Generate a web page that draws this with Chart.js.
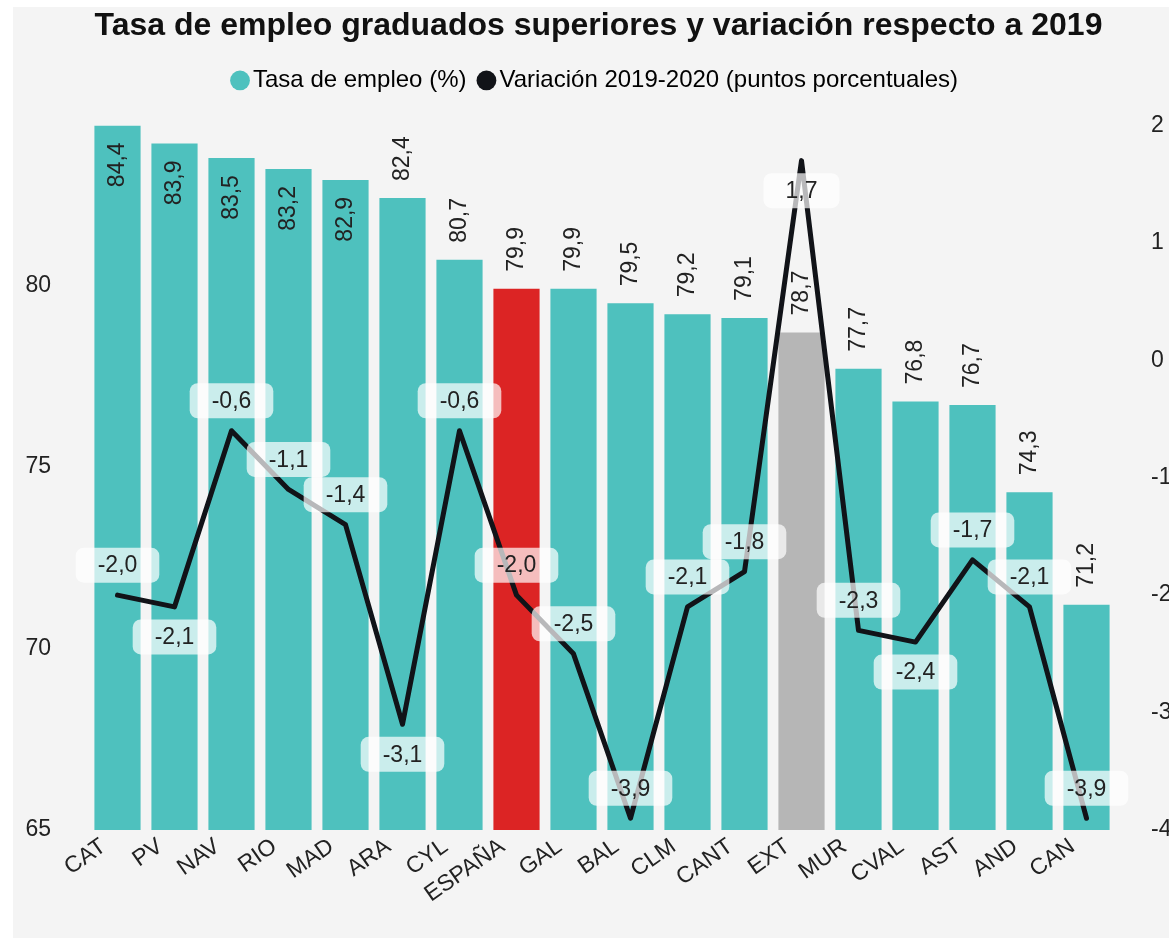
<!DOCTYPE html>
<html lang="es">
<head>
<meta charset="utf-8">
<title>Tasa de empleo graduados superiores</title>
<script src="https://cdn.jsdelivr.net/npm/chart.js@4.4.1/dist/chart.umd.min.js"></script>
<style>
  html, body { margin: 0; padding: 0; background: #fff; overflow: hidden; }
  #wrap { position: absolute; left: 13px; top: 7px; width: 1156px; height: 931px; overflow: hidden; background: #f4f4f4; }
  canvas { display: block; }
</style>
</head>
<body>
<div id="wrap"><canvas id="myChart" width="1171" height="931"></canvas></div>
<script>
// comunidades, ordered by employment rate
const comunidades = ['CAT', 'PV', 'NAV', 'RIO', 'MAD', 'ARA', 'CYL', 'ESPAÑA', 'GAL',
    'BAL', 'CLM', 'CANT', 'EXT', 'MUR', 'CVAL', 'AST', 'AND', 'CAN'];
// tasa de empleo (%)
const tasaEmpleo = [84.4, 83.9, 83.5, 83.2, 82.9, 82.4, 80.7, 79.9, 79.9,
    79.5, 79.2, 79.1, 78.7, 77.7, 76.8, 76.7, 74.3, 71.2];
// variacion 2019-2020 (puntos porcentuales)
const variacion = [-2.0, -2.1, -0.6, -1.1, -1.4, -3.1, -0.6, -2.0, -2.5,
    -3.9, -2.1, -1.8, 1.7, -2.3, -2.4, -1.7, -2.1, -3.9];
const ticksIzq = [65, 70, 75, 80];
const ticksDer = [-4, -3, -2, -1, 0, 1, 2];

// the line's value boxes go under the point for these ones
const etiquetasAbajo = ['PV', 'ARA', 'EXT', 'CVAL'];

const TEAL = '#4ec1be';
const RED = '#dc2424';
const GREY = '#b6b6b6';
const INK = '#111318';
const TEXT = '#222';
const FONT = '"Liberation Sans", Arial, Helvetica, sans-serif';

function coma(v) {
    return v.toFixed(1).replace('.', ',');
}

const barColors = comunidades.map(c => c === 'ESPAÑA' ? RED : (c === 'EXT' ? GREY : TEAL));

// draws the value labels: rotated numbers on bars, boxed numbers on the line
const etiquetas = {
    id: 'etiquetas',
    afterDatasetsDraw(chart) {
        const ctx = chart.ctx;
        const area = chart.chartArea;
        ctx.save();
        ctx.font = '23px ' + FONT;
        ctx.textAlign = 'center';
        ctx.textBaseline = 'middle';

        chart.getDatasetMeta(0).data.forEach((bar, i) => {
            const txt = coma(tasaEmpleo[i]);
            const w = ctx.measureText(txt).width;
            const gap = 17;
            let cy = bar.y - gap - w / 2;
            // no room above -> put it inside the bar
            if (bar.y - gap - w < area.top) cy = bar.y + gap + w / 2;
            ctx.save();
            ctx.translate(bar.x, cy);
            ctx.rotate(-Math.PI / 2);
            ctx.fillStyle = TEXT;
            ctx.fillText(txt, 0, 0);
            ctx.restore();
        });

        chart.getDatasetMeta(1).data.forEach((pt, i) => {
            const txt = coma(variacion[i]);
            const w = ctx.measureText(txt).width + 44;
            const h = 35;
            const cy = pt.y + (etiquetasAbajo.includes(comunidades[i]) ? 30 : -30);
            ctx.fillStyle = 'rgba(255,255,255,0.7)';
            ctx.beginPath();
            ctx.roundRect(pt.x - w / 2, cy - h / 2, w, h, 8);
            ctx.fill();
            ctx.fillStyle = TEXT;
            ctx.fillText(txt, pt.x, cy + 1);
        });
        ctx.restore();
    }
};

// extra room between legend and plot
const legendMargin = {
    id: 'legendMargin',
    beforeInit(chart) {
        const fit = chart.legend.fit;
        chart.legend.fit = function () {
            fit.bind(chart.legend)();
            this.height += 23;
        };
    }
};

function make_graph() {
    const ctx = document.getElementById('myChart');

    new Chart(ctx, {
        type: 'bar',
        data: {
            labels: comunidades,
            datasets: [{
                label: 'Tasa de empleo (%)',
                data: tasaEmpleo,
                yAxisID: 'y',
                backgroundColor: barColors,
                barPercentage: 0.81,
                categoryPercentage: 1,
                order: 1
            }, {
                type: 'line',
                label: 'Variación 2019-2020 (puntos porcentuales)',
                data: variacion,
                yAxisID: 'y1',
                borderColor: INK,
                backgroundColor: INK,
                borderWidth: 5,
                borderCapStyle: 'round',
                borderJoinStyle: 'round',
                tension: 0,
                pointRadius: 0,
                pointHoverRadius: 0,
                order: 0
            }]
        },
        options: {
            responsive: false,
            animation: false,
            layout: { padding: 0 },
            plugins: {
                title: {
                    display: true,
                    text: 'Tasa de empleo graduados superiores y variación respecto a 2019',
                    color: '#111',
                    font: { family: FONT, size: 32, weight: 'bold', lineHeight: 1.2 },
                    padding: { top: 0, bottom: 4 }
                },
                legend: {
                    display: true,
                    position: 'top',
                    labels: {
                        color: TEXT,
                        font: { family: FONT, size: 24 },
                        usePointStyle: true,
                        boxWidth: 2,
                        boxHeight: 14,
                        padding: 19,
                        generateLabels() {
                            return [
                                { text: 'Tasa de empleo (%)', fillStyle: TEAL, strokeStyle: TEAL, lineWidth: 0, pointStyle: 'circle', datasetIndex: 0 },
                                { text: 'Variación 2019-2020 (puntos porcentuales)', fillStyle: INK, strokeStyle: INK, lineWidth: 0, pointStyle: 'circle', datasetIndex: 1 }
                            ];
                        }
                    }
                },
                tooltip: { enabled: false }
            },
            scales: {
                x: {
                    grid: { display: false, drawTicks: false },
                    border: { display: false },
                    ticks: {
                        color: TEXT,
                        font: { family: FONT, size: 23 },
                        minRotation: 35,
                        maxRotation: 35,
                        autoSkip: false,
                        labelOffset: -14,
                        padding: 3
                    },
                    afterFit(scale) { scale.height = 108; }
                },
                y: {
                    position: 'left',
                    min: ticksIzq[0],
                    max: Math.max(...tasaEmpleo),
                    grid: { display: false, drawTicks: false },
                    border: { display: false },
                    afterBuildTicks(scale) { scale.ticks = ticksIzq.map(v => ({ value: v })); },
                    ticks: {
                        color: TEXT,
                        font: { family: FONT, size: 23 },
                        padding: 38
                    },
                    afterFit(scale) { scale.width = 76; }
                },
                y1: {
                    position: 'right',
                    min: ticksDer[0],
                    max: ticksDer[ticksDer.length - 1],
                    grid: { display: false, drawTicks: false },
                    border: { display: false },
                    afterBuildTicks(scale) { scale.ticks = ticksDer.map(v => ({ value: v })); },
                    ticks: {
                        color: TEXT,
                        font: { family: FONT, size: 23 },
                        padding: 36
                    },
                    afterFit(scale) { scale.width = 69; }
                }
            }
        },
        plugins: [etiquetas, legendMargin]
    });
}

make_graph();
</script>
</body>
</html>
